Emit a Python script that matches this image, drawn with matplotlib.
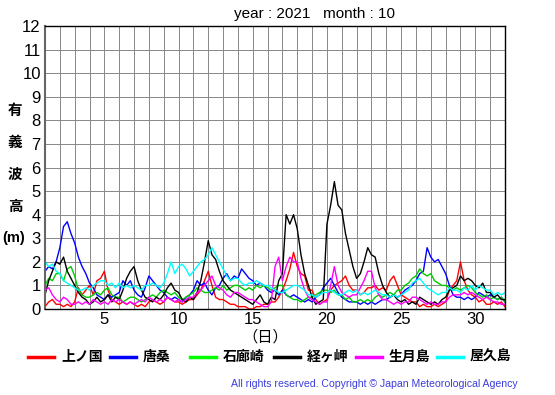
import numpy as np
import matplotlib
matplotlib.use("Agg")
import matplotlib.pyplot as plt
from matplotlib.lines import Line2D

plt.rcParams['font.family'] = ['Liberation Sans', 'Noto Sans CJK JP', 'DejaVu Sans']

title = "year : 2021   month : 10"
stations = ["上ノ国", "唐桑", "石廊崎", "経ヶ岬", "生月島", "屋久島"]
colors = ["#ff0000", "#0000ff", "#00cc00", "#000000", "#ff00ff", "#00ffff"]
legend_colors = ["#ff0000", "#0000ff", "#00ff00", "#000000", "#ff00ff", "#00ffff"]
ylabel_chars = ["有", "義", "波", "高"]
ylabel_unit = "(m)"
xticks = [5, 10, 15, 20, 25, 30]
yticks = list(range(0, 13))

# 6-hourly samples from day 1 00h to day 32 00h
kaminokuni = [
    0.1, 0.3, 0.4, 0.2, 0.2, 0.1, 0.2, 0.1, 0.3, 0.9, 0.6, 0.8, 1.0, 0.6, 1.2, 1.3,
    1.6, 0.8, 0.4, 0.3, 0.2, 0.3, 0.2, 0.3, 0.2, 0.1, 0.2, 0.1, 0.3, 0.4, 0.3, 0.2,
    0.3, 0.5, 0.4, 0.3, 0.3, 0.2, 0.3, 0.4, 0.4, 0.6, 0.8, 1.2, 1.6, 1.0, 0.5, 0.4,
    0.4, 0.3, 0.2, 0.2, 0.1, 0.1, 0.1, 0.0, 0.0, 0.1, 0.1, 0.2, 0.2, 0.3, 0.3, 0.5,
    0.8, 1.2, 1.7, 2.4, 1.8, 1.5, 1.4, 0.8, 0.8, 0.4, 0.2, 0.3, 0.4, 0.8, 1.0, 1.1,
    1.2, 1.4, 1.0, 0.8, 0.8, 0.6, 0.7, 0.9, 0.9, 1.0, 0.8, 0.9, 0.8, 1.2, 1.4, 1.0,
    0.6, 0.5, 0.4, 0.3, 0.3, 0.1, 0.2, 0.1, 0.1, 0.2, 0.1, 0.2, 0.3, 0.8, 1.0, 1.2,
    2.0, 1.2, 0.8, 0.6, 0.5, 0.3, 0.4, 0.2, 0.2, 0.3, 0.2, 0.3, 0.1]
karakuwa = [
    1.6, 1.8, 1.7, 2.0, 2.6, 3.5, 3.7, 3.2, 2.8, 2.2, 1.8, 1.5, 1.1, 0.9, 0.6, 0.5,
    0.4, 0.6, 0.5, 0.6, 0.7, 1.2, 1.0, 1.2, 0.8, 0.6, 0.5, 0.9, 1.4, 1.2, 1.0, 0.8,
    0.7, 0.5, 0.4, 0.5, 0.4, 0.3, 0.5, 0.6, 0.8, 1.2, 1.0, 1.1, 0.8, 0.6, 0.9, 1.0,
    1.3, 1.5, 1.2, 1.4, 1.3, 1.7, 1.5, 1.3, 1.2, 1.0, 1.1, 1.0, 0.8, 0.7, 0.8, 0.6,
    0.8, 0.6, 0.5, 0.6, 0.5, 0.4, 0.3, 0.4, 0.3, 0.5, 0.6, 0.9, 1.1, 1.3, 1.0, 0.7,
    0.5, 0.4, 0.3, 0.3, 0.3, 0.2, 0.3, 0.2, 0.3, 0.2, 0.3, 0.4, 0.4, 0.5, 0.6, 0.5,
    0.6, 0.8, 0.9, 1.0, 1.2, 1.5, 1.6, 2.6, 2.2, 2.0, 2.1, 1.8, 1.5, 1.0, 0.6, 0.5,
    0.5, 0.4, 0.5, 0.4, 0.5, 0.7, 0.6, 0.5, 0.6, 0.5, 0.4, 0.5, 0.3]
irozaki = [
    1.0, 1.3, 1.2, 1.5, 1.5, 1.2, 1.7, 1.8, 1.4, 0.8, 0.6, 0.5, 0.5, 0.6, 0.7, 0.6,
    0.8, 0.9, 0.6, 0.5, 0.5, 0.3, 0.4, 0.5, 0.5, 0.4, 0.3, 0.4, 0.5, 0.6, 0.5, 0.7,
    0.8, 0.7, 0.6, 0.7, 0.5, 0.4, 0.5, 0.6, 0.7, 0.9, 0.8, 0.7, 0.7, 0.8, 0.9, 0.8,
    1.0, 0.8, 0.9, 1.0, 1.0, 0.9, 0.8, 0.9, 0.8, 1.0, 0.9, 1.0, 0.9, 0.8, 0.9, 1.0,
    1.0, 0.6, 0.5, 0.4, 0.4, 0.3, 0.4, 0.5, 0.5, 0.6, 0.7, 0.8, 0.8, 0.7, 0.8, 0.6,
    0.6, 0.4, 0.5, 0.3, 0.3, 0.4, 0.3, 0.4, 0.3, 0.5, 0.6, 0.5, 0.6, 0.7, 0.6, 0.8,
    0.8, 1.0, 1.1, 1.3, 1.4, 1.7, 1.5, 1.4, 1.5, 1.2, 1.1, 1.0, 1.0, 0.9, 0.8, 0.9,
    0.8, 0.9, 1.0, 0.9, 0.7, 0.6, 0.5, 0.6, 0.4, 0.5, 0.4, 0.5, 0.3]
kyogamisaki = [
    0.6, 1.2, 1.6, 2.0, 1.9, 2.2, 1.6, 1.3, 1.0, 0.7, 0.5, 0.4, 0.2, 0.3, 0.5, 0.3,
    0.4, 0.6, 0.3, 0.5, 0.4, 0.8, 1.3, 1.6, 1.8, 1.2, 0.8, 0.5, 0.4, 0.3, 0.5, 0.4,
    0.6, 0.9, 1.1, 0.8, 0.7, 0.4, 0.3, 0.5, 0.4, 0.7, 1.2, 2.0, 2.9, 2.3, 2.1, 1.6,
    1.2, 1.0, 0.8, 0.7, 0.6, 0.5, 0.4, 0.3, 0.2, 0.4, 0.6, 0.3, 0.2, 0.5, 0.4, 1.2,
    1.5, 4.0, 3.6, 4.0, 3.4, 2.3, 1.5, 1.0, 0.5, 0.2, 0.3, 0.4, 3.6, 4.4, 5.4, 4.4,
    4.2, 3.2, 2.5, 1.8, 1.3, 1.5, 2.0, 2.6, 2.3, 2.2, 1.5, 1.0, 0.7, 0.5, 0.6, 0.4,
    0.3, 0.4, 0.2, 0.3, 0.2, 0.5, 0.4, 0.3, 0.2, 0.3, 0.2, 0.4, 0.5, 0.8, 0.9, 1.0,
    1.4, 1.2, 1.3, 1.2, 1.0, 0.9, 1.1, 0.7, 0.7, 0.5, 0.6, 0.4, 0.4]
ikitsukishima = [
    0.8, 0.9, 0.6, 0.4, 0.3, 0.5, 0.4, 0.2, 0.2, 0.3, 0.2, 0.3, 0.2, 0.4, 0.3, 0.2,
    0.3, 0.2, 0.4, 0.3, 0.4, 0.3, 0.2, 0.3, 0.2, 0.3, 0.4, 0.3, 0.5, 0.4, 0.3, 0.4,
    0.3, 0.5, 0.4, 0.3, 0.4, 0.3, 0.4, 0.5, 0.5, 0.7, 0.8, 1.0, 1.2, 1.4, 1.0, 0.9,
    0.8, 0.6, 0.5, 0.7, 0.7, 0.6, 0.5, 0.4, 0.4, 0.3, 0.2, 0.1, 0.1, 0.3, 1.8, 2.2,
    1.2, 1.8, 2.2, 2.0, 2.0, 1.3, 0.8, 0.5, 0.4, 0.3, 0.2, 0.3, 0.3, 1.0, 1.8, 1.0,
    0.7, 0.6, 0.5, 0.6, 0.6, 0.9, 1.2, 1.6, 1.6, 0.9, 0.6, 0.4, 0.4, 0.3, 0.2, 0.3,
    0.2, 0.3, 0.3, 0.5, 0.5, 0.4, 0.3, 0.2, 0.3, 0.2, 0.2, 0.3, 0.3, 0.5, 0.6, 0.6,
    0.6, 0.7, 0.6, 0.7, 0.6, 0.5, 0.4, 0.5, 0.4, 0.3, 0.3, 0.2, 0.2]
yakushima = [
    2.0, 1.8, 1.9, 1.6, 1.5, 1.2, 1.1, 1.0, 0.9, 0.8, 0.8, 0.9, 0.8, 1.0, 1.1, 1.2,
    1.2, 1.0, 1.1, 0.9, 1.1, 0.9, 1.0, 0.9, 1.0, 0.9, 0.8, 1.0, 1.0, 1.1, 1.0, 0.9,
    1.1, 1.5, 2.0, 1.5, 1.8, 1.9, 1.7, 1.4, 1.6, 1.8, 2.0, 2.1, 2.3, 2.6, 2.3, 2.0,
    1.7, 1.4, 1.2, 1.3, 1.3, 1.1, 1.0, 1.1, 1.1, 1.2, 1.1, 1.0, 1.0, 0.9, 0.8, 0.7,
    0.7, 0.8, 0.9, 1.0, 1.0, 0.9, 0.8, 0.6, 0.6, 0.5, 0.6, 0.7, 0.7, 0.8, 0.7, 0.6,
    0.6, 0.7, 0.8, 0.7, 0.8, 0.6, 0.7, 0.6, 0.7, 0.8, 0.7, 0.6, 0.6, 0.5, 0.6, 0.5,
    0.6, 0.7, 0.8, 1.1, 1.2, 1.3, 1.1, 0.9, 0.8, 0.7, 0.6, 0.7, 0.7, 0.9, 0.8, 0.8,
    0.7, 0.9, 0.8, 1.0, 0.8, 1.0, 0.9, 0.8, 0.8, 0.6, 0.7, 0.6, 0.7]

series = [kaminokuni, karakuwa, irozaki, kyogamisaki, ikitsukishima, yakushima]
days = 1 + np.arange(len(kaminokuni)) * 0.25

fig = plt.figure(figsize=(5.55, 3.95), dpi=100)
ax = fig.add_axes([45 / 555, 1 - 309 / 395, 460 / 555, 283 / 395])

for vals, c in zip(series, colors):
    ax.plot(days, vals, color=c, lw=1.0)

ax.set_xlim(1, 32)
ax.set_ylim(0, 12)
ax.set_xticks(np.arange(1, 33), minor=True)
ax.set_xticks(xticks)
ax.set_yticks(yticks)
ax.grid(True, which='both', axis='x', color='#888888', lw=0.7)
ax.grid(True, which='major', axis='y', color='#888888', lw=0.7)
ax.set_axisbelow(True)
ax.tick_params(which='both', length=0, labelsize=12, pad=3)
ax.tick_params(axis='x', pad=2)
for s in ax.spines.values():
    s.set_color('black')
    s.set_linewidth(1.0)
ax.spines['left'].set_color('#666666')
ax.spines['left'].set_linewidth(1.5)

fig.text(315 / 555, 1 - 14 / 395, title, ha='center', va='center', fontsize=11)

ypos = [110, 142, 174, 206]
for ch, yp in zip(ylabel_chars, ypos):
    fig.text(15 / 555, 1 - yp / 395, ch, ha='center', va='center', fontsize=10.5,
             fontweight='bold', family=['Noto Sans CJK JP', 'DejaVu Sans'])
fig.text(14 / 555, 1 - 238 / 395, ylabel_unit, ha='center', va='center',
         fontsize=10.5, fontweight='bold')

fig.text(265 / 555, 1 - 337 / 395, "（日）", ha='center', va='center', fontsize=11,
         family=['Noto Sans CJK JP', 'DejaVu Sans'])

seg_x = [28, 110, 190, 274, 356, 437]
for sx, name, c in zip(seg_x, stations, legend_colors):
    y = 1 - 357 / 395
    fig.add_artist(Line2D([sx / 555, (sx + 26) / 555], [y, y], color=c, lw=2.5,
                          transform=fig.transFigure))
    fig.text((sx + 33) / 555, y, name, ha='left', va='center', fontsize=10,
             fontweight='bold', family=['Noto Sans CJK JP', 'DejaVu Sans'])

fig.text(518 / 555, 1 - 384 / 395,
         "All rights reserved. Copyright \u00a9 Japan Meteorological Agency",
         ha='right', va='center', fontsize=7.6, color='#3c3cdc')

fig.savefig("out.png", dpi=100)
